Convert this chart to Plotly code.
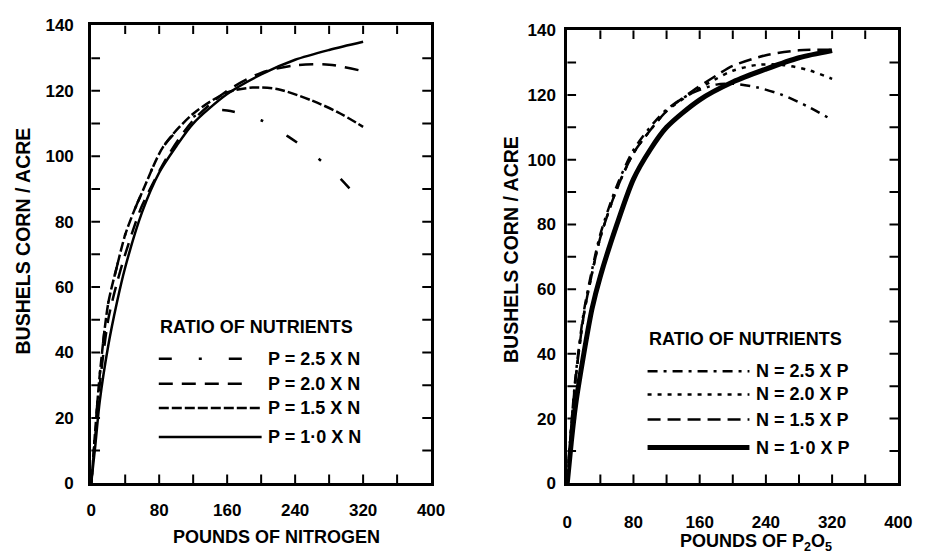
import plotly.graph_objects as go

# ---------------- data ----------------
# Left panel: bushels corn / acre vs pounds of nitrogen
n_p10_x = [0, 5, 10, 20, 30, 40, 60, 80, 100, 120, 160, 200, 240, 280, 320]
n_p10_y = [0, 12, 25, 42, 55, 66, 83, 95, 103, 110, 119, 125, 129.5, 132.5, 135]

n_p15_x = [0, 5, 10, 20, 30, 40, 50, 60, 85, 120, 160, 190, 220, 260, 290, 320]
n_p15_y = [0, 17, 33, 55, 66, 76, 83, 89, 103, 113, 119.5, 121, 120.5, 117, 113.5, 109]

n_p20_x = [0, 5, 10, 20, 30, 40, 50, 60, 90, 120, 160, 200, 240, 280, 320]
n_p20_y = [0, 15, 30, 50, 61, 70, 78, 85, 100, 111, 120, 125.5, 127.8, 128, 126]

n_p25_x = [0, 5, 10, 20, 30, 40, 50, 60, 85, 120, 140, 160, 200, 232, 264, 290, 320]
n_p25_y = [0, 17, 33, 55, 66, 76, 83, 89, 103, 112, 114, 114, 111, 106, 100, 94, 85.5]

# Right panel: bushels corn / acre vs pounds of P2O5
p_n10_x = [0, 5, 10, 20, 30, 40, 60, 80, 100, 120, 160, 200, 240, 280, 320]
p_n10_y = [0, 13, 24, 40, 54, 64, 80, 94, 103, 110, 118.5, 124, 128, 131.5, 133.7]

p_n15_x = [0, 5, 10, 20, 30, 40, 60, 80, 100, 120, 150, 180, 200, 240, 280, 320]
p_n15_y = [0, 18, 32, 52, 65, 76, 91, 102, 109, 115, 121, 126, 129, 132.3, 133.8, 134]

p_n20_x = [0, 5, 10, 20, 30, 40, 60, 80, 100, 120, 150, 180, 200, 230, 260, 290, 320]
p_n20_y = [0, 18, 32, 52, 65, 76, 91, 102, 109, 115, 120.5, 125, 127.5, 129.3, 129.3, 127.8, 125]

p_n25_x = [0, 5, 10, 20, 30, 40, 60, 80, 100, 120, 150, 180, 200, 230, 260, 290, 320]
p_n25_y = [0, 18, 33, 53, 66, 77, 92, 103, 110, 115.5, 120.5, 123.2, 123.5, 122.3, 120, 116.5, 112.3]

x_range = [0, 400]
x_label_step = 80
y_range = [0, 140]
y_label_step = 20
# positions of the inward tick marks on the frame
x_tick_vals = [40, 80, 120, 160, 200, 240, 280, 320, 360]
y_tick_vals = [10, 20, 30, 40, 50, 60, 70, 80, 90, 100, 110, 120, 130]

left_labels = ["P = 2.5 X N", "P = 2.0 X N", "P = 1.5 X N", "P = 1·0 X N"]
right_labels = ["N = 2.5 X P", "N = 2.0 X P", "N = 1.5 X P", "N = 1·0 X P"]
legend_title = "RATIO OF NUTRIENTS"
y_title = "BUSHELS CORN / ACRE"
x_title_left = "POUNDS OF NITROGEN"
x_title_right = "POUNDS OF P<sub>2</sub>O<sub>5</sub>"

# ---------------- styles ----------------
W, H = 928, 559
FONT = "Liberation Sans, Arial, sans-serif"
left_styles = [
    dict(dash="13px,27px,3px,27px", width=2.5),
    dict(dash="14px,9px", width=2.5),
    dict(dash="10px,3px", width=2.5),
    dict(dash="solid", width=2.5),
]
right_styles = [
    dict(dash="10px,6px,3px,6px", width=2.5),
    dict(dash="4px,6px", width=2.5),
    dict(dash="13px,7px", width=2.5),
    dict(dash="solid", width=5),
]
TICK_FRAC = 0.025  # inward tick length as a fraction of each axis span (~9 px)


def px(x):
    return x / W


def py(y):
    return 1 - y / H


xl_dom = [px(88), px(435)]
yl_dom = [py(491), py(17)]
xr_dom = [px(574), px(912)]
yr_dom = [py(491), py(22)]

fig = go.Figure()

left_series = [(n_p25_x, n_p25_y), (n_p20_x, n_p20_y), (n_p15_x, n_p15_y), (n_p10_x, n_p10_y)]
right_series = [(p_n25_x, p_n25_y), (p_n20_x, p_n20_y), (p_n15_x, p_n15_y), (p_n10_x, p_n10_y)]

for (xs, ys), st, name in zip(left_series, left_styles, left_labels):
    fig.add_trace(go.Scatter(x=xs, y=ys, mode="lines", name=name, xaxis="x", yaxis="y",
                             line=dict(color="black", shape="spline", smoothing=0.8, **st),
                             showlegend=False))
for (xs, ys), st, name in zip(right_series, right_styles, right_labels):
    fig.add_trace(go.Scatter(x=xs, y=ys, mode="lines", name=name, xaxis="x2", yaxis="y2",
                             line=dict(color="black", shape="spline", smoothing=0.8, **st),
                             showlegend=False))


def tick_segments(xdom, ydom):
    """Inward tick segments on all four sides, built from the tick value lists."""
    wpx = (xdom[1] - xdom[0]) * W
    hpx = (ydom[1] - ydom[0]) * H
    tick_px = 9
    dy = (y_range[1] - y_range[0]) * tick_px / hpx
    dx = (x_range[1] - x_range[0]) * tick_px / wpx
    xs, ys = [], []
    for v in x_tick_vals:
        xs += [v, v, None, v, v, None]
        ys += [y_range[0], y_range[0] + dy, None, y_range[1], y_range[1] - dy, None]
    for v in y_tick_vals:
        xs += [x_range[0], x_range[0] + dx, None, x_range[1], x_range[1] - dx, None]
        ys += [v, v, None, v, v, None]
    return xs, ys


for xa, ya, xd, yd in (("x", "y", xl_dom, yl_dom), ("x2", "y2", xr_dom, yr_dom)):
    tx, ty = tick_segments(xd, yd)
    fig.add_trace(go.Scatter(x=tx, y=ty, mode="lines", xaxis=xa, yaxis=ya, showlegend=False,
                             hoverinfo="skip", connectgaps=False,
                             line=dict(color="black", width=2)))

# empty trace so the label-only overlay axes of the left panel are drawn
fig.add_trace(go.Scatter(x=[None], y=[None], xaxis="x3", yaxis="y3", showlegend=False, hoverinfo="skip"))

tickfont = dict(family=FONT, size=17, color="black", weight="bold")


def frame_axis(domain, anchor, rng, labels=False, dtick=None, standoff=0):
    d = dict(domain=domain, anchor=anchor, range=rng,
             showline=True, linewidth=3, linecolor="black", mirror=True,
             showticklabels=labels, showgrid=False, zeroline=False)
    if labels:
        d.update(tickmode="linear", tick0=0, dtick=dtick, tickfont=tickfont,
                 ticklabelstandoff=standoff)
    return d


def label_axis(domain, anchor, over, rng, dtick, gap):
    return dict(domain=domain, anchor=anchor, overlaying=over, range=rng, tickmode="linear",
                tick0=0, dtick=dtick, showline=False, ticks="outside", ticklen=gap,
                tickcolor="rgba(0,0,0,0)", showgrid=False, zeroline=False,
                tickfont=tickfont)


fig.update_layout(
    width=W, height=H,
    margin=dict(l=0, r=0, t=0, b=0),
    paper_bgcolor="white", plot_bgcolor="white",
    xaxis=frame_axis(xl_dom, "y", x_range),
    yaxis=frame_axis(yl_dom, "x", y_range),
    xaxis2=frame_axis(xr_dom, "y2", x_range, True, x_label_step, 21),
    yaxis2=frame_axis(yr_dom, "x2", y_range, True, y_label_step, 5),
    xaxis3=label_axis(xl_dom, "y3", "x", x_range, x_label_step, 11),
    yaxis3=label_axis(yl_dom, "x3", "y", y_range, y_label_step, 13),
    showlegend=False,
)

annots = []
txt = dict(family=FONT, size=18, color="black", weight="bold")
ytxt = dict(family=FONT, size=19.5, color="black", weight="bold")
# axis titles
annots.append(dict(text=y_title, x=px(18), y=py(240), xref="paper", yref="paper", textangle=-90,
                   showarrow=False, font=ytxt, xanchor="center", yanchor="middle"))
annots.append(dict(text=y_title, x=px(516), y=py(249), xref="paper", yref="paper", textangle=-90,
                   showarrow=False, font=ytxt, xanchor="center", yanchor="middle"))
annots.append(dict(text=x_title_left, x=px(277), y=py(534), xref="paper", yref="paper",
                   showarrow=False, font=txt, xanchor="center", yanchor="top"))
annots.append(dict(text=x_title_right, x=px(767), y=py(538), xref="paper", yref="paper",
                   showarrow=False, font=txt, xanchor="center", yanchor="top"))

# legend titles
annots.append(dict(text=legend_title, x=px(156), y=py(329), xref="paper", yref="paper",
                   showarrow=False, font=txt, xanchor="left", yanchor="middle"))
annots.append(dict(text=legend_title, x=px(655), y=py(342), xref="paper", yref="paper",
                   showarrow=False, font=txt, xanchor="left", yanchor="middle"))

shapes = []
left_rows = [362, 388, 413, 443]
left_ends = [250, 250, 262, 262]
for lab, st, yy, xe in zip(left_labels, left_styles, left_rows, left_ends):
    shapes.append(dict(type="line", xref="paper", yref="paper", x0=px(157), x1=px(xe),
                       y0=py(yy), y1=py(yy), line=dict(color="black", **st)))
    annots.append(dict(text=lab, x=px(266), y=py(yy), xref="paper", yref="paper",
                       showarrow=False, font=txt, xanchor="left", yanchor="middle"))

right_rows = [375, 399, 425, 454]
for lab, st, yy in zip(right_labels, right_styles, right_rows):
    shapes.append(dict(type="line", xref="paper", yref="paper", x0=px(656), x1=px(760),
                       y0=py(yy), y1=py(yy), line=dict(color="black", **st)))
    annots.append(dict(text=lab, x=px(765), y=py(yy), xref="paper", yref="paper",
                       showarrow=False, font=txt, xanchor="left", yanchor="middle"))

fig.update_layout(annotations=annots, shapes=shapes)
fig.write_html("out.html")
